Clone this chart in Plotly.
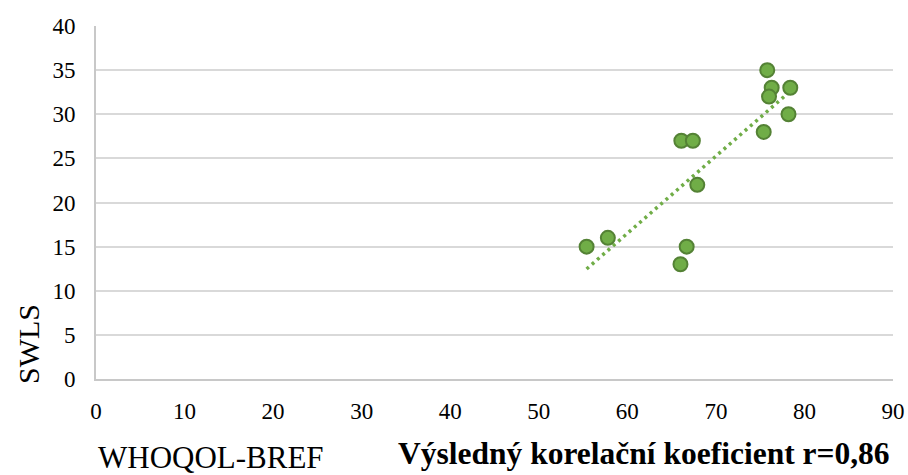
import numpy as np
import plotly.graph_objects as go

# Data
whoqol = [55.4, 57.8, 66.1, 67.4, 67.9, 66.7, 66.0, 75.8, 76.3, 76.0, 78.4, 78.2, 75.4]
swls = [15, 16, 27, 27, 22, 15, 13, 35, 33, 32, 33, 30, 28]
x_ticks = [0, 10, 20, 30, 40, 50, 60, 70, 80, 90]
y_ticks = [0, 5, 10, 15, 20, 25, 30, 35, 40]

# Linear trendline from the data
slope, intercept = np.polyfit(whoqol, swls, 1)
tx = np.array([min(whoqol), max(whoqol)])
ty = slope * tx + intercept

FONT = "Liberation Serif, Times New Roman, serif"

fig = go.Figure()
fig.add_trace(go.Scatter(
    x=tx, y=ty, mode="lines",
    line=dict(color="#70ad47", width=3.5, dash="3px,4px"),
    hoverinfo="skip", showlegend=False,
))
fig.add_trace(go.Scatter(
    x=whoqol, y=swls, mode="markers",
    marker=dict(size=14, color="#70ad47", line=dict(color="#548235", width=2)),
    showlegend=False,
))

fig.update_layout(
    width=908, height=475,
    margin=dict(l=96, r=15, t=26, b=96, autoexpand=False),
    paper_bgcolor="white", plot_bgcolor="white",
    font=dict(family=FONT, size=23, color="#000000"),
    xaxis=dict(
        range=[0, 90], tickvals=x_ticks, showgrid=False, zeroline=False,
        showline=True, linecolor="#c8c8c8", linewidth=2, automargin=False,
        ticks="", ticklabelstandoff=10,
        tickfont=dict(family=FONT, size=23, color="#000000"),
    ),
    yaxis=dict(
        range=[0, 40], tickvals=y_ticks, showgrid=True, gridcolor="#d9d9d9",
        gridwidth=2, zeroline=False, automargin=False,
        showline=True, linecolor="#c8c8c8", linewidth=2,
        ticks="", ticklabelstandoff=14,
        tickfont=dict(family=FONT, size=23, color="#000000"),
    ),
    annotations=[
        dict(text="SWLS", xref="paper", yref="paper", x=-0.085, y=0.1,
             xanchor="center", yanchor="middle", textangle=-90, showarrow=False,
             font=dict(family=FONT, size=30, color="#000000")),
        dict(text="WHOQOL-BREF", xref="paper", yref="paper", x=0.0, y=-0.222,
             xanchor="left", yanchor="middle", showarrow=False,
             font=dict(family=FONT, size=31, color="#000000")),
        dict(text="<b>Výsledný korelační koeficient r=0,86</b>", xref="paper", yref="paper",
             x=0.999, y=-0.21, xanchor="right", yanchor="middle", showarrow=False,
             font=dict(family=FONT, size=31.5, color="#000000")),
    ],
)

fig.write_html("out.html", config={"displayModeBar": False},
               post_script="document.body.style.margin='0';document.body.style.padding='0';")
